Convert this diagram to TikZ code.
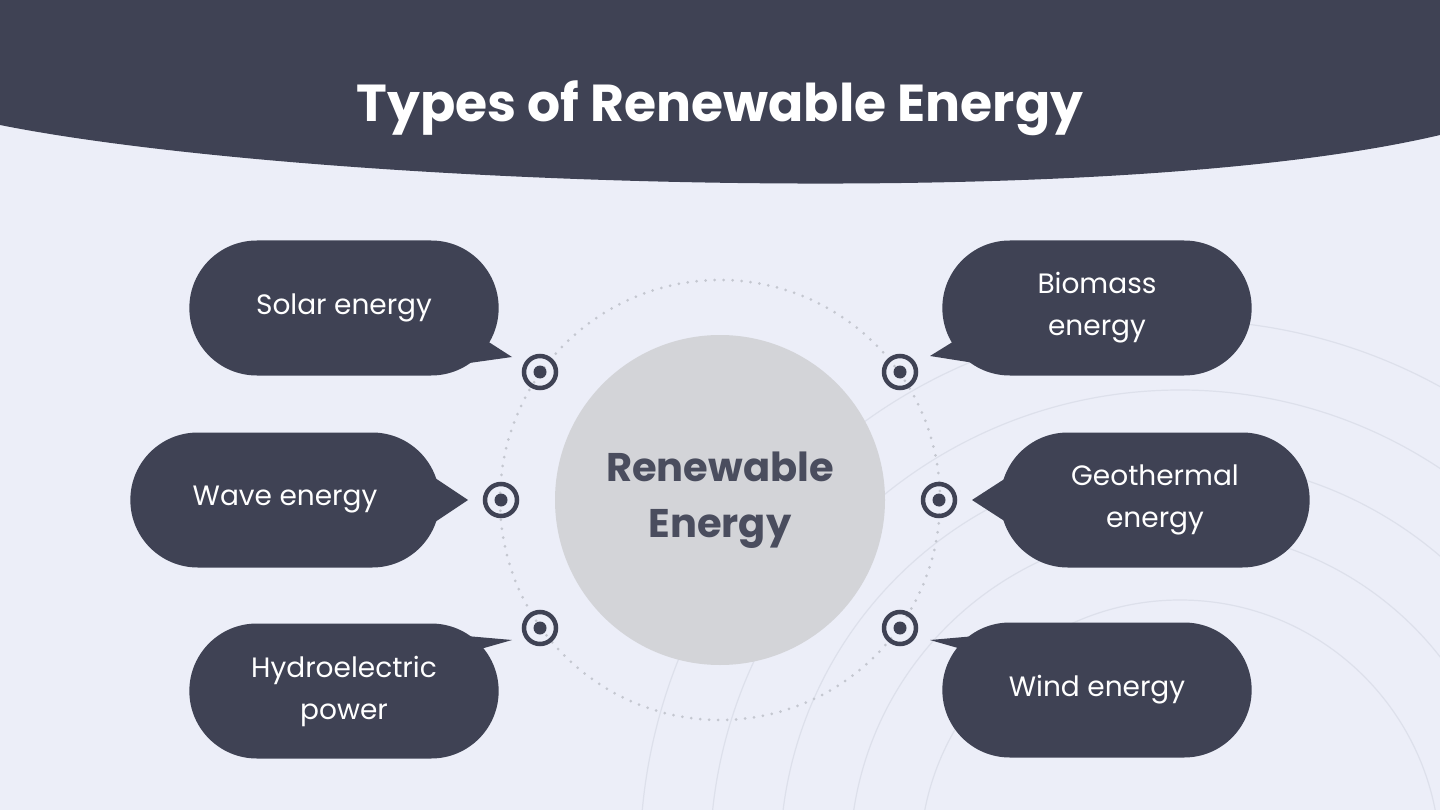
\documentclass[tikz,border=0pt]{standalone}
\usepackage{fontspec}
\setmainfont{Poppins}
\usetikzlibrary{shapes.misc}
\definecolor{ink}{HTML}{3F4254}
\definecolor{paper}{HTML}{ECEEF8}
\definecolor{hub}{HTML}{D3D4D8}
\definecolor{hubtext}{HTML}{4A4D5E}
\definecolor{dots}{HTML}{C4C7D0}
\definecolor{faint}{HTML}{DDE0EB}
\begin{document}
\begin{tikzpicture}[x=1pt,y=-1pt,
  bubble/.style={rounded rectangle, fill=ink, text=white, minimum width=316pt,
    minimum height=135pt, align=center, font=\fontsize{28}{42}\selectfont},
  target/.style={circle, draw=ink, line width=4.5pt, minimum size=32pt, inner sep=0pt,
    path picture={\fill[ink] (path picture bounding box.center) circle (6.5pt);}}]
\useasboundingbox (0,0) rectangle (1440,810);
\fill[paper] (0,0) rectangle (1440,810);
% faint background arcs
\begin{scope}
\clip (0,0) rectangle (1440,810);
\foreach \r in {260,330,400,470,540}
  \draw[faint, line width=1.2pt] (1180,860) circle (\r pt);
\end{scope}
% header
\fill[ink] (0,0) -- (0,125) .. controls (300,185) and (1100,215) .. (1440,135) -- (1440,0) -- cycle;
\node[text=white, font=\fontsize{52}{60}\selectfont\bfseries] (title) at (720,108) {Types of Renewable Energy};
% hub
\draw[dots, line width=3pt, dash pattern=on 0pt off 9pt, line cap=round] (720,500) circle (220pt);
\node[circle, fill=hub, minimum size=330pt, text=hubtext, align=center,
  font=\fontsize{40}{56}\selectfont\bfseries] (hub) at (720,500) {Renewable\\Energy};
% targets
\node[target] (t1) at (540,372) {};
\node[target] (t2) at (501,500) {};
\node[target] (t3) at (540,628) {};
\node[target] (t4) at (900,372) {};
\node[target] (t5) at (939,500) {};
\node[target] (t6) at (900,628) {};
% bubbles
\node[bubble] (solar) at (344,308) {Solar energy};
\node[bubble] (wave) at (285,500) {Wave energy};
\node[bubble] (hydro) at (344,691) {Hydroelectric\\power};
\node[bubble] (bio) at (1097,308) {Biomass\\energy};
\node[bubble] (geo) at (1155,500) {Geothermal\\energy};
\node[bubble] (wind) at (1097,690) {Wind energy};
% tails
\fill[ink] (470,330) -- (512,357) -- (455,365) -- cycle;
\fill[ink] (435,478) -- (468,500) -- (435,522) -- cycle;
\fill[ink] (470,652) -- (512,640) -- (455,635) -- cycle;
\fill[ink] (972,330) -- (930,356) -- (987,365) -- cycle;
\fill[ink] (1006,478) -- (972,500) -- (1006,522) -- cycle;
\fill[ink] (972,652) -- (930,640) -- (987,635) -- cycle;
\end{tikzpicture}
\end{document}
